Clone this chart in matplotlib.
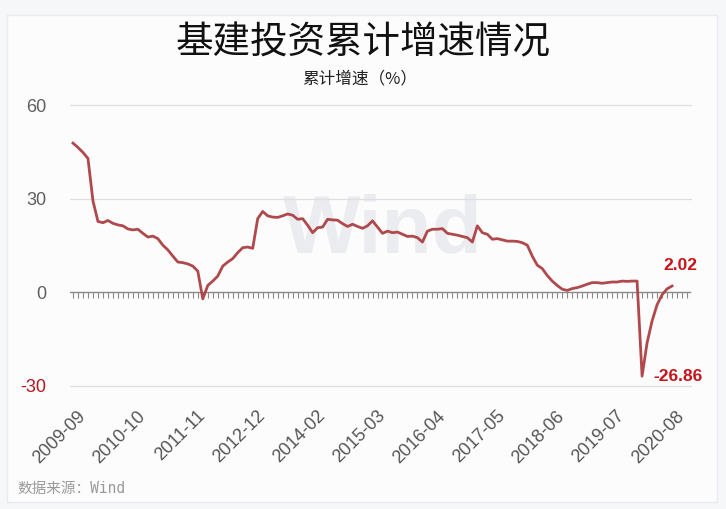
import numpy as np
import matplotlib.pyplot as plt
from matplotlib.patches import Rectangle
from matplotlib.transforms import ScaledTranslation

# cumulative growth of infrastructure investment, monthly (no January points)
growth = [47.8, 46.4, 44.8, 42.9, 29.3, 22.7, 22.3, 23.0, 22.1, 21.6,
          21.3, 20.3, 20.0, 20.2, 18.9, 17.7, 18.0, 17.2, 15.1, 13.6,
          11.6, 9.7, 9.5, 9.1, 8.4, 6.8, -2.1, 2.2, 3.6, 5.2,
          8.4, 9.7, 10.8, 12.7, 14.3, 14.5, 14.1, 23.6, 25.9, 24.5,
          24.1, 24.0, 24.5, 25.1, 24.7, 23.4, 23.6, 21.5, 19.1, 20.7,
          20.9, 23.4, 23.2, 23.1, 22.0, 21.1, 21.8, 21.1, 20.5, 21.3,
          22.9, 20.9, 18.9, 19.6, 19.1, 19.3, 18.6, 17.9, 18.0, 17.5,
          16.1, 19.6, 20.2, 20.2, 20.4, 18.9, 18.6, 18.3, 17.9, 17.5,
          16.1, 21.3, 19.1, 18.6, 17.0, 17.2, 16.8, 16.4, 16.4, 16.3,
          15.9, 15.1, 11.6, 8.7, 7.6, 5.4, 3.6, 2.2, 1.0, 0.6,
          1.2, 1.5, 2.0, 2.6, 3.1, 3.1, 2.9, 3.1, 3.3, 3.3,
          3.6, 3.5, 3.6, 3.6, -26.86, -16.2, -9.2, -4.0, -0.8, 1.1,
          2.02]
tick_labels = ['2009-09', '2010-10', '2011-11', '2012-12', '2014-02', '2015-03',
               '2016-04', '2017-05', '2018-06', '2019-07', '2020-08']
y_ticks = [60, 30, 0, -30]

title = '基建投资累计增速情况'
subtitle = '累计增速（%）'
source = '数据来源：Wind'

plt.rcParams['font.family'] = ['Liberation Sans', 'Noto Sans CJK SC']

W, H = 726, 509
fig = plt.figure(figsize=(W / 100, H / 100), dpi=100)
fig.patch.set_facecolor('#f6f7f9')
card = Rectangle((7 / W, 1 - 502 / H), 710 / W, 487 / H, transform=fig.transFigure,
                 facecolor='#fcfcfd', edgecolor='#e9ebee', lw=1, zorder=-3)
fig.patches.append(card)

ax = fig.add_axes([70 / W, (H - 392.2) / H, 622 / W, (392.2 - 86.3) / H])
ax.set_facecolor('none')
for s in ax.spines.values():
    s.set_visible(False)

x = np.arange(len(growth))
ax.set_xlim(-0.6, 124)
ax.set_ylim(-32, 66)

# grid lines and the zero axis with a tick per month
for v in y_ticks:
    if v != 0:
        ax.axhline(v, color='#dedfe2', lw=0.9, zorder=1)
ax.axhline(0, xmin=0.0, xmax=0.997, color='#8a8a8a', lw=1.0, zorder=2)
ax.vlines(np.arange(0, 124), -1.9, 0, color='#8a8a8a', lw=0.8, zorder=2)

ax.plot(x, growth, color='#b0494b', lw=2.0, zorder=4, solid_joinstyle='round')

ax.set_yticks(y_ticks)
ax.set_yticklabels([str(v) for v in y_ticks], fontsize=13, color='#5f5f5f')
for lab, v in zip(ax.get_yticklabels(), y_ticks):
    if v < 0:
        lab.set_color('#b8161c')
ax.tick_params(axis='y', length=0, pad=17)

ax.set_xticks(np.arange(0, len(growth), 12))
ax.set_xticklabels(tick_labels, rotation=45, ha='right', rotation_mode='anchor',
                   fontsize=13, color='#555555')
ax.tick_params(axis='x', length=0, pad=11)
for lab in ax.get_xticklabels():
    lab.set_transform(lab.get_transform() + ScaledTranslation(0.04, 0, fig.dpi_scale_trans))

ax.annotate(f'{growth[-1]:.2f}', xy=(x[-1], growth[-1]), xytext=(6, 15),
            textcoords='offset points', ha='center', va='center',
            fontsize=12.5, fontweight='bold', color='#c8141b', zorder=5)
i_min = int(np.argmin(growth))
ax.annotate(f'{growth[i_min]:.2f}', xy=(x[i_min], growth[i_min]), xytext=(8, 0),
            textcoords='offset points', ha='left', va='center',
            fontsize=12.5, fontweight='bold', color='#c8141b', zorder=5)

fig.text(383 / W, 1 - 252 / H, 'Wind', fontsize=59, fontweight='bold',
         color='#ebecf0', ha='center', va='baseline', zorder=-1)

fig.text(0.5, 1 - 43 / H, title, fontsize=27, color='#111111',
         ha='center', va='center', family=['Noto Sans CJK SC'])
fig.text(360 / W, 1 - 79 / H, subtitle, fontsize=12, color='#222222',
         ha='center', va='center', family=['Noto Sans CJK SC'])
fig.text(17 / W, 1 - 488 / H, source, fontsize=10.5, color='#9a9a9a',
         ha='left', va='center', family=['DejaVu Sans Mono', 'Noto Sans CJK SC'])

fig.savefig('out.png', dpi=100, facecolor=fig.get_facecolor())
